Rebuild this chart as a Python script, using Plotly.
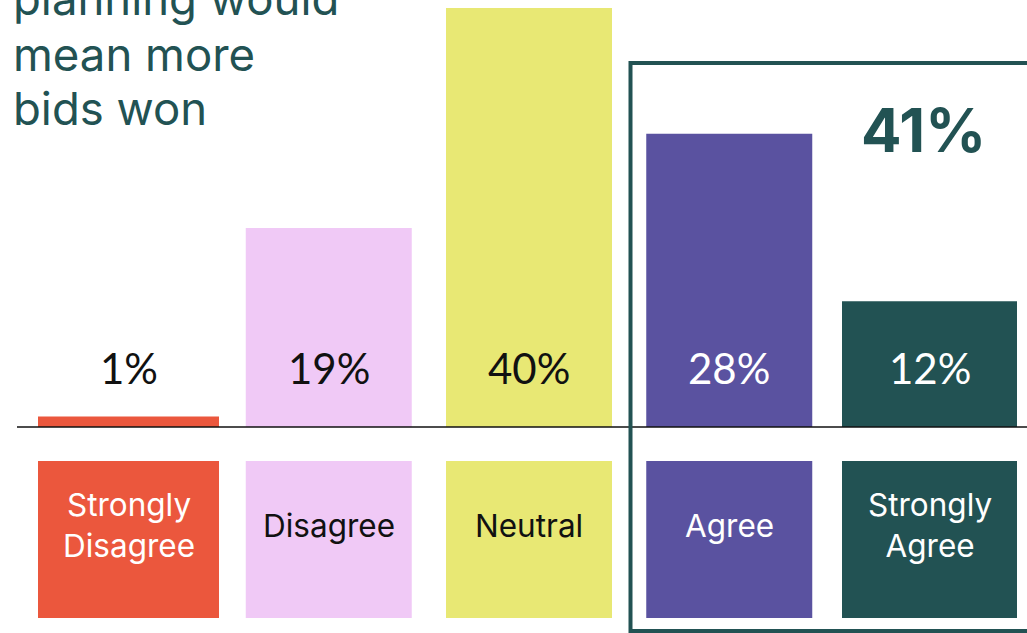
import plotly.graph_objects as go

# Survey responses
categories = ["Strongly<br>Disagree", "Disagree", "Neutral", "Agree", "Strongly<br>Agree"]
values = [1, 19, 40, 28, 12]
value_labels = ["1%", "19%", "40%", "28%", "12%"]
bar_colors = ["#EB573D", "#F0C9F6", "#E8E874", "#5A52A0", "#225253"]
text_colors = ["#111111", "#111111", "#111111", "#FFFFFF", "#FFFFFF"]
label_text_colors = ["#FFFFFF", "#111111", "#111111", "#FFFFFF", "#FFFFFF"]
agree_total_label = "41%"
title_lines = ["planning would", "mean more", "bids won"]

W, H = 1027, 633
TEAL = "#225253"

# pixel helpers for the canvas (no margins)
def px(x):
    return x / W

def py(y):
    return 1 - y / H

base_px = 427          # baseline position
px_per_unit = 10.475   # vertical scale
y_min = -(H - base_px) / px_per_unit
y_max = base_px / px_per_unit

spacing = 200.25
first_center = 128.5
x_range = [-first_center / spacing, (W - first_center) / spacing]
positions = list(range(len(categories)))
widths = [181 / spacing, 166 / spacing, 166 / spacing, 166 / spacing, 175 / spacing]

box_top = -(461 - base_px) / px_per_unit
box_bottom = -(618 - base_px) / px_per_unit

fig = go.Figure()

# value bars
fig.add_trace(go.Bar(
    x=positions, y=values, width=widths,
    marker=dict(color=bar_colors, line=dict(width=0)),
    hoverinfo="skip", showlegend=False,
))

# category label tiles below the baseline
fig.add_trace(go.Bar(
    x=positions, y=[box_bottom - box_top] * len(positions), base=[box_top] * len(positions),
    width=widths,
    marker=dict(color=bar_colors, line=dict(width=0)),
    hoverinfo="skip", showlegend=False,
))

annotations = []
for i, (lab, col) in enumerate(zip(value_labels, text_colors)):
    annotations.append(dict(
        x=positions[i], xref="x", y=py(368), yref="paper",
        text=lab, showarrow=False, xanchor="center", yanchor="middle",
        font=dict(family="Lato", size=42, color=col),
    ))
for i, (cat, col) in enumerate(zip(categories, label_text_colors)):
    annotations.append(dict(
        x=positions[i], xref="x", y=py(525), yref="paper",
        text=cat, showarrow=False, xanchor="center", yanchor="middle",
        font=dict(family="Inter", size=31.5, color=col),
    ))

annotations.append(dict(
    x=(positions[3] + positions[4]) / 2 + 0.47, xref="x", y=py(130), yref="paper",
    text=f"<b>{agree_total_label}</b>", showarrow=False,
    xanchor="center", yanchor="middle",
    font=dict(family="Inter", size=60, color=TEAL),
))

for line, baseline in zip(title_lines, [16, 72, 126]):
    annotations.append(dict(
        x=px(11), xref="paper", y=py(baseline + 12), yref="paper",
        text=line, showarrow=False, xanchor="left", yanchor="bottom",
        font=dict(family="Inter", size=45.5, color=TEAL),
    ))

shapes = [
    # baseline
    dict(type="line", xref="paper", yref="y", x0=px(17), x1=1, y0=0, y1=0,
         line=dict(color="#111111", width=1.5)),
    # frame around the agree group
    dict(type="rect", xref="paper", yref="paper",
         x0=px(630.5), x1=px(1040), y0=py(63), y1=py(631),
         line=dict(color=TEAL, width=4), fillcolor="rgba(0,0,0,0)"),
]

fig.update_layout(
    width=W, height=H,
    margin=dict(l=0, r=0, t=0, b=0),
    paper_bgcolor="white", plot_bgcolor="white",
    xaxis=dict(range=x_range, visible=False, fixedrange=True),
    yaxis=dict(range=[y_min, y_max], visible=False, fixedrange=True),
    barmode="overlay",
    annotations=annotations, shapes=shapes,
    showlegend=False,
)

fig.write_html("out.html", config={"displayModeBar": False})
